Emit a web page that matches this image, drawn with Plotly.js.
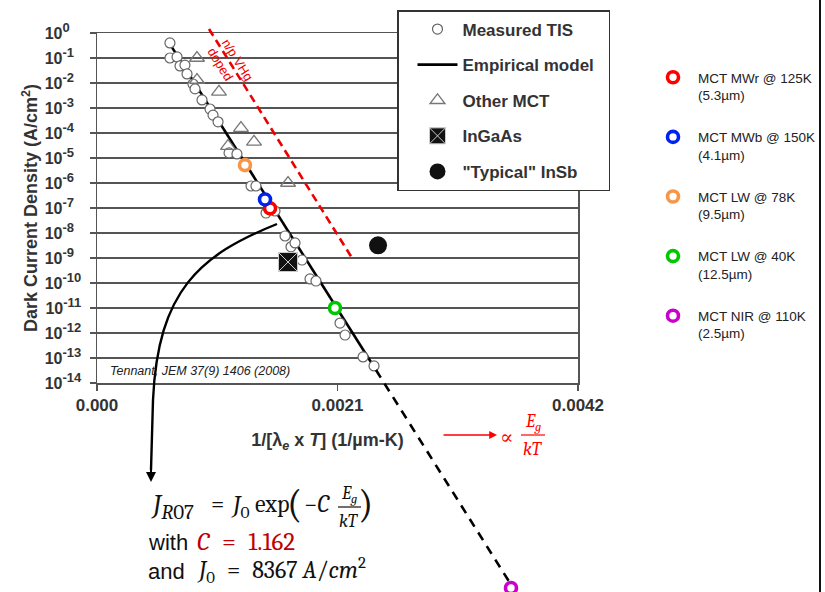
<!DOCTYPE html>
<html>
<head>
<meta charset="utf-8">
<script src="https://cdn.plot.ly/plotly-3.0.1.min.js"></script>
<style>html,body{margin:0;padding:0;background:#fff}#chart{width:825px;height:592px}</style>
</head>
<body>
<div id="chart"></div>
<script>
// ---------------- DATA ----------------
// Measured TIS (open circles)
const tisX = [6.37e-4, 6.37e-4, 6.99e-4, 7.25e-4, 7.68e-4, 7.86e-4, 8.38e-4, 8.56e-4, 9.17e-4, 9.87e-4,
              1.013e-3, 1.057e-3, 1.153e-3, 1.222e-3, 1.345e-3, 1.388e-3, 1.476e-3, 1.554e-3, 1.642e-3, 1.694e-3,
              1.729e-3, 1.790e-3, 1.860e-3, 1.912e-3, 2.122e-3, 2.166e-3, 2.323e-3, 2.419e-3];
const tisY = [0.40, 0.10, 0.11, 0.048, 0.052, 0.023, 9.1e-3, 5.8e-3, 2.1e-3, 9.1e-4,
              5.2e-4, 2.8e-4, 1.6e-5, 1.45e-5, 7.6e-7, 7.6e-7, 6.3e-8, 7.6e-8, 7.6e-9, 2.8e-9,
              4.0e-9, 8.3e-10, 1.45e-10, 1.2e-10, 2.5e-12, 8.3e-13, 1.1e-13, 4.8e-14];
// Empirical model (solid part inside the plot, dashed extension)
const modelX = [6.37e-4, 2.436e-3];
const modelY = [0.36, 3.3e-14];
const modelExtX = [2.436e-3, 3.606e-3];
const modelExtY = [3.3e-14, 1.0e-22];
// Other MCT (open triangles)
const otherX = [8.73e-4, 8.73e-4, 1.065e-3, 1.257e-3, 1.371e-3, 1.144e-3, 1.668e-3];
const otherY = [0.10, 0.0132, 4.4e-3, 1.58e-4, 4.4e-5, 3.0e-5, 1.0e-6];
// InGaAs and "Typical" InSb
const ingaasX = [1.668e-3], ingaasY = [6.9e-10];
const insbX = [2.454e-3], insbY = [3.2e-9];
// n/p VHg doped (red dashed line)
const vhgX = [9.78e-4, 2.227e-3];
const vhgY = [1.45, 1.0e-9];
// Highlighted MCT devices
const mctNames = ['MCT MWr @ 125K<br>(5.3µm)', 'MCT MWb @ 150K<br>(4.1µm)', 'MCT LW @ 78K<br>(9.5µm)',
                  'MCT LW @ 40K<br>(12.5µm)', 'MCT NIR @ 110K<br>(2.5µm)'];
const mctX = [1.511e-3, 1.467e-3, 1.292e-3, 2.078e-3, 3.615e-3];
const mctY = [9.7e-8, 2.2e-7, 5.2e-6, 1.0e-11, 6.3e-23];
// Axis ticks
const xTickVals = [0, 0.0021, 0.0042];
const xTickText = ['0.000', '0.0021', '0.0042'];
const yExps = [0, -1, -2, -3, -4, -5, -6, -7, -8, -9, -10, -11, -12, -13, -14];
const yTickVals = yExps.map(e => Math.pow(10, e));
// labels are drawn left-aligned like the reference: short exponents get an invisible pad
const SUP = 'font-size:13px';
const yTickText = yExps.map(e => {
  const s = e < 0 ? '-' + (-e) : String(e);
  const pad = e === 0 ? '-4' : (e > -10 ? '4' : '');
  return '10<sup><span style="' + SUP + '">' + s + '</span>' +
    (pad ? '<span style="' + SUP + ';color:rgba(0,0,0,0)">' + pad + '</span>' : '') + '</sup>';
});

// ---------------- STYLE / LAYOUT ----------------
const mctColors = ['#ff0000', '#0022ee', '#f79646', '#00c800', '#cc00cc'];
const SANS = 'Arial, "Liberation Sans", sans-serif';
const SERIF = 'Cambria, "Liberation Serif", "DejaVu Serif", serif';
const W = 825, H = 592, PL = 97, PR = 578, PT = 33, PB = 383;
const X_RANGE = [0, 0.0042], Y_RANGE = [-14, 0];
const fx = v => v / W, fy = v => 1 - v / H;
const dxp = (X_RANGE[1] - X_RANGE[0]) / (PR - PL);
const dyp = (Y_RANGE[1] - Y_RANGE[0]) / (PB - PT);
const x2Range = [X_RANGE[0] - PL * dxp, X_RANGE[1] + (W - PR) * dxp];
const y2Range = [Y_RANGE[0] - (H - PB) * dyp, Y_RANGE[1] + PT * dyp];

const traces = [];
traces.push({x: modelX, y: modelY, type: 'scatter', mode: 'lines', name: 'Empirical model\u00a0\u00a0',
  line: {color: '#000', width: 2.6}, legend: 'legend', legendgroup: 'g2', legendrank: 2, xaxis: 'x', yaxis: 'y'});
traces.push({x: tisX, y: tisY, type: 'scatter', mode: 'markers', name: 'Measured TIS',
  marker: {symbol: 'circle', size: 10, color: '#fff', line: {color: '#666', width: 1.2}},
  legend: 'legend', legendgroup: 'g1', legendrank: 1, xaxis: 'x', yaxis: 'y'});
traces.push({x: otherX, y: otherY, type: 'scatter', mode: 'markers', name: 'Other MCT',
  marker: {symbol: 'triangle-up-open', size: 13, color: '#777', line: {width: 1.3}},
  legend: 'legend', legendgroup: 'g3', legendrank: 3, xaxis: 'x', yaxis: 'y'});
traces.push({x: ingaasX, y: ingaasY, type: 'scatter', mode: 'markers', name: 'InGaAs',
  marker: {symbol: 'square-x', size: 19, color: '#111', line: {color: '#ccc', width: 1}},
  legend: 'legend', legendgroup: 'g4', legendrank: 4, xaxis: 'x', yaxis: 'y'});
traces.push({x: insbX, y: insbY, type: 'scatter', mode: 'markers', name: '"Typical" InSb',
  marker: {symbol: 'circle', size: 18, color: '#111'},
  legend: 'legend', legendgroup: 'g5', legendrank: 5, xaxis: 'x', yaxis: 'y'});
traces.push({x: modelExtX, y: modelExtY, type: 'scatter', mode: 'lines', showlegend: false,
  line: {color: '#000', width: 2.6, dash: '9px,7px'}, xaxis: 'x2', yaxis: 'y2'});
traces.push({x: vhgX, y: vhgY, type: 'scatter', mode: 'lines', showlegend: false,
  line: {color: '#ee0000', width: 2.6, dash: '8px,5px'}, xaxis: 'x2', yaxis: 'y2'});
mctNames.forEach((n, i) => {
  traces.push({x: [mctX[i]], y: [mctY[i]], type: 'scatter', mode: 'markers', name: n,
    marker: {symbol: 'circle', size: 11, color: '#fff', line: {color: mctColors[i], width: 3.6}},
    legend: 'legend2', legendgroup: 'm' + i, xaxis: 'x2', yaxis: 'y2'});
});

const ann = (o) => Object.assign({xref: 'paper', yref: 'paper', showarrow: false, xanchor: 'left', yanchor: 'middle'}, o);
const annotations = [
  ann({x: fx(108), y: fy(371), text: '<i>Tennant, JEM 37(9) 1406 (2008)</i>', font: {family: SANS, size: 12.5, color: '#222'}}),
  ann({x: fx(230), y: fy(64), xanchor: 'center', text: 'n/p VHg<br>doped', align: 'left', textangle: 58,
       font: {family: SANS, size: 13, color: '#ee0000'}}),
  // red arrow  -> ∝ Eg/kT
  ann({x: fx(497), y: fy(435), ax: -57, ay: 0, text: '', showarrow: true, arrowcolor: '#ff0000', arrowwidth: 1.3, arrowhead: 2, arrowsize: 1.2}),
  ann({x: fx(498), y: fy(437), text: '∝', font: {family: SERIF, size: 20, color: '#ff0000'}}),
  ann({x: fx(533), y: fy(422), xanchor: 'center', text: '<i>E</i><sub><i>g</i></sub>', font: {family: SERIF, size: 18, color: '#ff0000'}}),
  ann({x: fx(533), y: fy(449), xanchor: 'center', text: '<i>kT</i>', font: {family: SERIF, size: 18, color: '#ff0000'}}),
  // curved arrow head
  ann({x: fx(151), y: fy(482), ax: 0, ay: -18, text: '', showarrow: true, arrowcolor: '#000', arrowwidth: 2, arrowhead: 2, arrowsize: 1}),
  // formula line 1
  ann({x: fx(149), y: fy(506), text: '<i>J</i><sub><span style="font-size:21px"><i>R</i>07</span></sub>', font: {family: SERIF, size: 27, color: '#111'}}),
  ann({x: fx(209), y: fy(504), text: '=', font: {family: SERIF, size: 24, color: '#111'}}),
  ann({x: fx(229), y: fy(506), text: '<i>J</i><sub>0</sub>', font: {family: SERIF, size: 25, color: '#111'}}),
  ann({x: fx(253), y: fy(504), text: 'exp', font: {family: SERIF, size: 24, color: '#111'}}),
  ann({x: fx(285), y: fy(504), text: '(', font: {family: SERIF, size: 40, color: '#111'}}),
  ann({x: fx(302), y: fy(504), text: '−<i>C</i>', font: {family: SERIF, size: 24, color: '#111'}}),
  ann({x: fx(349), y: fy(494), xanchor: 'center', text: '<i>E</i><sub><i>g</i></sub>', font: {family: SERIF, size: 18, color: '#111'}}),
  ann({x: fx(349), y: fy(521), xanchor: 'center', text: '<i>kT</i>', font: {family: SERIF, size: 18, color: '#111'}}),
  ann({x: fx(356), y: fy(504), text: ')', font: {family: SERIF, size: 40, color: '#111'}}),
  // formula line 2 and 3
  ann({x: fx(146), y: fy(542), text: 'with', font: {family: SANS, size: 22, color: '#111'}}),
  ann({x: fx(195), y: fy(541), text: '<i>C</i>\u2002=\u20021.162', font: {family: SERIF, size: 25, color: '#c00000'}}),
  ann({x: fx(146), y: fy(571), text: 'and', font: {family: SANS, size: 22, color: '#111'}}),
  ann({x: fx(195), y: fy(570), text: '<i>J</i><sub>0</sub>\u2002=\u20028367 <i>A</i>/<i>cm</i><sup>2</sup>', font: {family: SERIF, size: 24, color: '#111'}})
];

const pathFromPx = (cmds) => cmds.map(c => c[0] + ' ' + c.slice(1).reduce((s, v, k) => s + (k % 2 === 0 ? fx(v) : ',' + fy(v) + ' '), '')).join(' ');
const shapes = [
  {type: 'path', xref: 'paper', yref: 'paper', line: {color: '#000', width: 2.4},
   path: pathFromPx([['M', 277, 224], ['C', 200, 255, 158, 290, 153, 400], ['L', 151, 470]])},
  {type: 'line', xref: 'paper', yref: 'paper', x0: fx(338), x1: fx(361), y0: fy(507), y1: fy(507), line: {color: '#111', width: 1.2}},
  {type: 'line', xref: 'paper', yref: 'paper', x0: fx(521), x1: fx(545), y0: fy(435), y1: fy(435), line: {color: '#ff0000', width: 1.2}},
  {type: 'line', xref: 'paper', yref: 'paper', x0: fx(820), x1: fx(820), y0: 0, y1: 1, line: {color: '#111', width: 2}}
];

const layout = {
  width: W, height: H, autosize: false,
  margin: {l: 0, r: 0, t: 0, b: 0},
  paper_bgcolor: '#fff', plot_bgcolor: 'rgba(0,0,0,0)',
  xaxis: {domain: [fx(PL), fx(PR)], range: X_RANGE, anchor: 'y', tickvals: xTickVals, ticktext: xTickText,
    ticks: 'outside', ticklen: 6, tickcolor: '#555', tickwidth: 1.5, showline: true, linecolor: '#555', linewidth: 1.5,
    mirror: true, showgrid: false, zeroline: false, tickfont: {family: SANS, size: 17, weight: 'bold', color: '#333'},
    title: {text: '1/[λ<sub><i>e</i></sub> x <i>T</i>] (1/µm-K)\u00a0\u00a0\u00a0\u00a0\u200b', font: {family: SANS, size: 18, weight: 'bold', color: '#333'}, standoff: 19}},
  yaxis: {domain: [fy(PB), fy(PT)], type: 'log', range: Y_RANGE, anchor: 'x', tickvals: yTickVals, ticktext: yTickText,
    ticks: 'outside', ticklen: 6, tickcolor: '#555', tickwidth: 1.5, showline: true, linecolor: '#555', linewidth: 1.5,
    mirror: true, showgrid: true, gridcolor: '#555', gridwidth: 1.5, zeroline: false,
    tickfont: {family: SANS, size: 16, weight: 'bold', color: '#333'}, ticklabelstandoff: 5,
    title: {text: 'Dark Current Density (A/cm<sup>2</sup>)', font: {family: SANS, size: 18, weight: 'bold', color: '#333'}, standoff: 2}},
  xaxis2: {domain: [0, 1], range: x2Range, anchor: 'y2', visible: false},
  yaxis2: {domain: [0, 1], range: y2Range, type: 'log', anchor: 'x2', visible: false},
  legend: {x: fx(397), y: fy(10), xanchor: 'left', yanchor: 'top', bgcolor: '#fff', bordercolor: '#333', borderwidth: 1.5,
    font: {family: SANS, size: 17, weight: 'bold', color: '#333'}, traceorder: 'grouped', tracegroupgap: 10.5,
    indentation: 14, itemwidth: 40},
  legend2: {x: fx(648), y: fy(62), xanchor: 'left', yanchor: 'top', bgcolor: 'rgba(0,0,0,0)', borderwidth: 0,
    font: {family: SANS, size: 13.5, color: '#222'}, traceorder: 'grouped', tracegroupgap: 21.5, valign: 'top', itemwidth: 40},
  annotations: annotations,
  shapes: shapes,
  hovermode: false
};

Plotly.newPlot('chart', traces, layout, {displayModeBar: false, staticPlot: true});
</script>
</body>
</html>
